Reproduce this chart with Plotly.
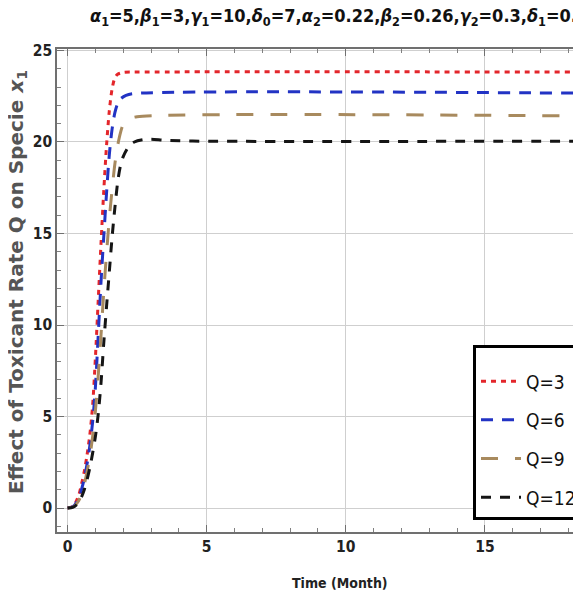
import plotly.graph_objects as go

# ---- data ----
t_q3 = [0, 0.2, 0.4, 0.5, 0.6, 0.7, 0.8, 0.9, 1.0, 1.1, 1.2, 1.3, 1.4, 1.5, 1.6, 1.7, 1.8, 2.0, 2.5, 20]
x1_q3 = [0, 0.1, 0.7, 1.3, 2.0, 2.9, 4.0, 5.6, 8.2, 11.3, 14.4, 17.3, 19.8, 21.7, 22.9, 23.5, 23.7, 23.8, 23.82, 23.82]

t_q6 = [0, 0.2, 0.4, 0.5, 0.6, 0.7, 0.8, 0.9, 1.0, 1.1, 1.2, 1.3, 1.4, 1.5, 1.6, 1.7, 1.8, 1.9, 2.1, 2.4, 20]
x1_q6 = [0, 0.08, 0.5, 1.0, 1.6, 2.4, 3.4, 4.7, 6.6, 9.4, 12.3, 14.8, 17.2, 19.3, 20.7, 21.6, 22.1, 22.35, 22.55, 22.65, 22.65]

t_q9 = [0, 0.2, 0.4, 0.6, 0.8, 0.9, 1.0, 1.1, 1.2, 1.3, 1.4, 1.5, 1.6, 1.7, 1.8, 1.9, 2.0, 2.2, 2.5, 20]
x1_q9 = [0, 0.06, 0.4, 1.3, 2.8, 3.9, 5.3, 7.2, 9.4, 11.8, 13.9, 15.8, 17.4, 18.8, 19.8, 20.5, 20.95, 21.25, 21.38, 21.4]

t_q12 = [0, 0.2, 0.4, 0.6, 0.8, 0.9, 1.0, 1.1, 1.2, 1.3, 1.4, 1.5, 1.6, 1.7, 1.8, 1.9, 2.0, 2.2, 2.4, 2.7, 3.0, 3.5, 4.5, 20]
x1_q12 = [0, 0.05, 0.3, 1.0, 2.2, 3.0, 3.9, 5.1, 6.8, 9.0, 11.0, 12.9, 14.8, 16.4, 17.8, 18.7, 19.2, 19.75, 20.0, 20.12, 20.15, 20.1, 20.05, 20.05]

series_names = ["Q=3", "Q=6", "Q=9", "Q=12"]
series_t = [t_q3, t_q6, t_q9, t_q12]
series_y = [x1_q3, x1_q6, x1_q9, x1_q12]

x_ticks = [0, 5, 10, 15]
y_ticks = [0, 5, 10, 15, 20, 25]

title_text = ("<b><i>α</i><sub>1</sub>=5,<i>β</i><sub>1</sub>=3,<i>γ</i><sub>1</sub>=10,"
              "<i>δ</i><sub>0</sub>=7,<i>α</i><sub>2</sub>=0.22,<i>β</i><sub>2</sub>=0.26,"
              "<i>γ</i><sub>2</sub>=0.3,<i>δ</i><sub>1</sub>=0.05</b>")
x_title = "<b>Time (Month)</b>"
y_title = "<b>Effect of Toxicant Rate Q on Specie <i>x</i><sub>1</sub></b>"

# ---- styles ----
colors = ["#e3262b", "#2233c4", "#a88a5e", "#151515"]
dashes = ["5px,5px", "12px,9px", "17px,17px", "10px,9px"]

W, H = 581, 600
ML, MR, MT, MB = 49, 0, 41, 76
NARROW = "Liberation Sans Narrow, Arial Narrow, DejaVu Sans Condensed, sans-serif"

fig = go.Figure()
for name, tt, yy, c, d in zip(series_names, series_t, series_y, colors, dashes):
    fig.add_trace(go.Scatter(
        x=tt, y=yy, mode="lines", name=name + "&nbsp;", legendgroup=name,
        line=dict(color=c, width=3, dash=d, shape="spline", smoothing=0.8),
    ))

axis_common = dict(
    showline=True, linecolor="#707070", linewidth=1.5,
    ticks="inside", ticklen=7, tickwidth=1.2, tickcolor="#707070",
    showgrid=True, gridcolor="#cfcfcf", gridwidth=1,
    zeroline=False, automargin=False,
    tickfont=dict(family=NARROW, size=15.5, color="#222"),
    minor=dict(dtick=1, ticks="inside", ticklen=4, tickwidth=1, tickcolor="#808080", showgrid=False),
)

fig.update_xaxes(range=[-0.38, 18.74], tickvals=x_ticks, ticktext=[f"<b>{v}</b>" for v in x_ticks],
                 mirror="ticks", **axis_common)
fig.update_yaxes(range=[-1.31, 25.08], tickvals=y_ticks, ticktext=[f"<b>{v}</b>" for v in y_ticks],
                 mirror=False, **axis_common)

pw = W - ML - MR
ph = H - MT - MB
fig.update_layout(
    width=W, height=H,
    margin=dict(l=ML, r=MR, t=MT, b=MB, pad=0),
    paper_bgcolor="white", plot_bgcolor="white",
    showlegend=True,
    legend=dict(
        x=1.0, y=(H - MB - 337) / ph, xanchor="right", yanchor="top",
        bgcolor="white", bordercolor="black", borderwidth=3,
        font=dict(family=NARROW, size=19, color="#111"),
        title=dict(text="&nbsp;", font=dict(size=11)),
        tracegroupgap=11, itemwidth=40,
    ),
    annotations=[
        dict(text=title_text, xref="paper", yref="paper",
             x=(80 - ML) / pw, y=(H - MB - 9) / ph, xanchor="left", yanchor="middle",
             showarrow=False, font=dict(family=NARROW, size=18, color="#111")),
        dict(text=x_title, xref="paper", yref="paper",
             x=(332 - ML) / pw, y=-(575 - (H - MB)) / ph, xanchor="center", yanchor="middle",
             showarrow=False, font=dict(family=NARROW, size=14, color="#222")),
        dict(text=y_title, xref="paper", yref="paper",
             x=-(ML - 9) / pw, y=(H - MB - 274) / ph, xanchor="center", yanchor="middle",
             textangle=-90, showarrow=False, font=dict(family="DejaVu Sans", size=20, color="#555")),
    ],
)

fig.write_html("out.html")
